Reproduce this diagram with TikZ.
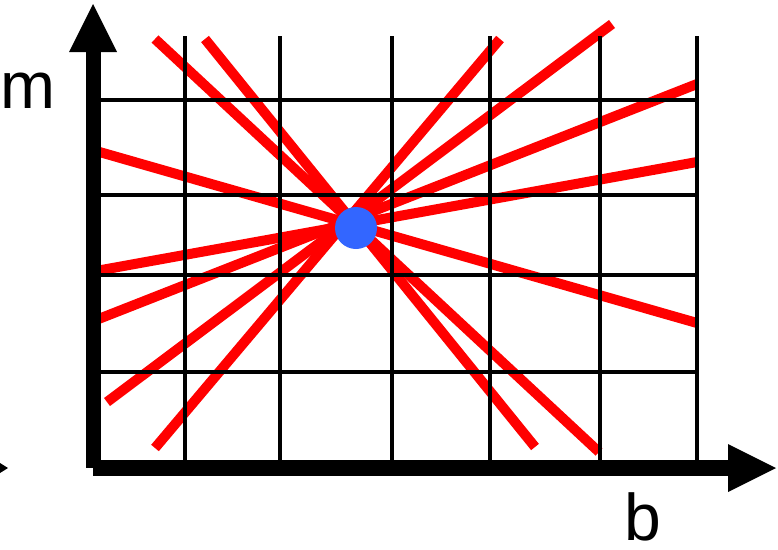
\documentclass[tikz,border=0pt]{standalone}
\usepackage{fontspec}
\setmainfont{Liberation Sans}
\definecolor{dotblue}{RGB}{51,102,255}
\definecolor{linered}{RGB}{255,0,0}
\tikzset{
  gridline/.style={draw=black, line width=4.5pt},
  redline/.style={draw=linered, line width=10pt},
  axisfill/.style={fill=black, draw=none},
  axislabel/.style={font=\fontsize{66}{66}\selectfont, inner sep=0pt, anchor=base, text depth=0pt},
}
\begin{document}
\begin{tikzpicture}[x=1pt,y=-1pt]
\useasboundingbox (0,0) rectangle (778,549);
% red lines
\draw[redline] (155,39) -- (599,452);
\draw[redline] (205,39) -- (535,447);
\draw[redline] (96,151) -- (697,323);
\draw[redline] (96,271) -- (697,162);
\draw[redline] (96,320) -- (697,84);
\draw[redline] (107,402) -- (612,24);
\draw[redline] (155,448) -- (500,39);
% grid
\foreach \gx in {185,280,392,490,600,697}
  \draw[gridline] (\gx,36) -- (\gx,462);
\foreach \gy in {100,195,275,372}
  \draw[gridline] (99,\gy) -- (699,\gy);
% axes
\fill[axisfill] (86,52) rectangle (101,468);
\fill[axisfill] (69,52) -- (93,4) -- (117,52) -- cycle;
\fill[axisfill] (93,460) rectangle (729,476);
\fill[axisfill] (728,444) -- (776,468) -- (728,492) -- cycle;
\fill[axisfill] (0,463) -- (8,468) -- (0,473) -- cycle;
% dot
\node[circle, fill=dotblue, minimum size=42pt, inner sep=0pt] (dot) at (356,228) {};
% labels
\node[axislabel] (mlab) at (28,108) {m};
\node[axislabel] (blab) at (643,540) {b};
\end{tikzpicture}
\end{document}
